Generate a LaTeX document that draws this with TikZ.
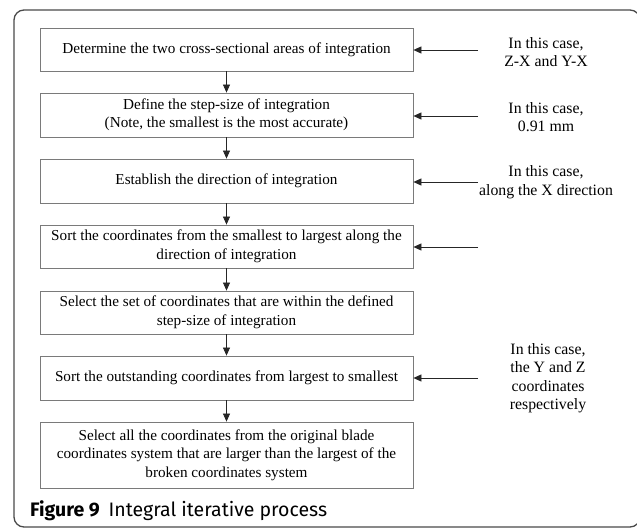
\documentclass[tikz,border=0pt]{standalone}
\usepackage{fontspec}
\setmainfont{Liberation Serif}
\newfontfamily\capfont{Fira Sans}
\usetikzlibrary{arrows.meta}
\definecolor{boxgray}{HTML}{7A7A7A}
\definecolor{framegray}{HTML}{4A4A4A}
\begin{document}
\begin{tikzpicture}[x=1pt,y=-1pt,
  stepbox/.style={draw=boxgray, line width=0.8pt, minimum width=373pt, align=center,
    font=\fontsize{15.2}{18.5}\selectfont, inner sep=0pt},
  sidelabel/.style={align=center, font=\fontsize{15.8}{18.5}\selectfont, inner sep=0pt},
  flow/.style={-{Triangle[length=8pt,width=7pt]}, line width=0.7pt, draw=black!85}]
\useasboundingbox (0,0) rectangle (637,529);
\draw[framegray, line width=1.3pt, rounded corners=10pt] (14,10) rectangle (640,527);

\node[stepbox, minimum height=43pt] (b1) at (226.5,49.5) {Determine the two cross-sectional areas of integration};
\node[stepbox, minimum height=44pt] (b2) at (226.5,115) {Define the step-size of integration\\(Note, the smallest is the most accurate)};
\node[stepbox, minimum height=44pt] (b3) at (226.5,181) {Establish the direction of integration};
\node[stepbox, minimum height=43pt] (b4) at (226.5,246.5) {Sort the coordinates from the smallest to largest along the\\direction of integration};
\node[stepbox, minimum height=43pt] (b5) at (226.5,312.5) {Select the set of coordinates that are within the defined\\step-size of integration};
\node[stepbox, minimum height=44pt] (b6) at (226.5,378) {Sort the outstanding coordinates from largest to smallest};
\node[stepbox, minimum height=66pt] (b7) at (226.5,455) {Select all the coordinates from the original blade\\coordinates system that are larger than the largest of the\\broken coordinates system};

\foreach \a/\b in {b1/b2,b2/b3,b3/b4,b4/b5,b5/b6,b6/b7}
  \draw[flow] (\a.south) -- (\b.north);

\node[sidelabel] (l1) at (546,52) {In this case,\\Z-X and Y-X};
\node[sidelabel] (l2) at (546,117) {In this case,\\0.91 mm};
\node[sidelabel] (l3) at (546,182) {In this case,\\along the X direction};
\node[sidelabel] (l6) at (548,378) {In this case,\\the Y and Z\\coordinates\\respectively};

\coordinate (s1) at (478,50);
\coordinate (s2) at (478,116);
\coordinate (s3) at (478,182);
\coordinate (s4) at (478,247);
\coordinate (s6) at (478,378);
\draw[flow] (s1) -- (s1 -| b1.east);
\draw[flow] (s2) -- (s2 -| b2.east);
\draw[flow] (s3) -- (s3 -| b3.east);
\draw[flow] (s4) -- (s4 -| b4.east);
\draw[flow] (s6) -- (s6 -| b6.east);

\node[anchor=base west, inner sep=0pt, font=\capfont\fontsize{19.5}{22}\selectfont] (cap) at (30,516)
  {\textbf{Figure 9}\hspace{0.45em}Integral iterative process};
\end{tikzpicture}
\end{document}
